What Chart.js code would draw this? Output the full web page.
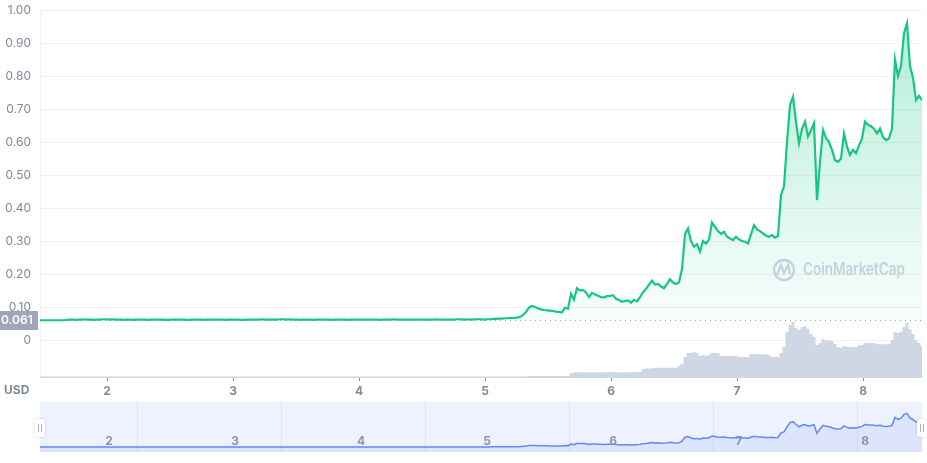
<!DOCTYPE html>
<html>
<head>
<meta charset="utf-8">
<script src="https://cdn.jsdelivr.net/npm/chart.js@4.4.0/dist/chart.umd.min.js"></script>
<style>
  body { margin: 0; background: #fff; }
  #wrap { position: relative; width: 927px; height: 463px; overflow: hidden; }
  #main { position: absolute; left: 0; top: 0; }
  #nav { position: absolute; left: 0; top: 395px; }
</style>
</head>
<body>
<div id="wrap">
  <canvas id="main" width="927" height="400"></canvas>
  <canvas id="nav" width="927" height="68"></canvas>
</div>
<script>
// one point every 1/42 day, starting in the middle of day 1
var startDay = 1.468;
var stepDay = 1 / 42;

var dayTicks = [2, 3, 4, 5, 6, 7, 8];
var priceTicks = [0, 0.1, 0.2, 0.3, 0.4, 0.5, 0.6, 0.7, 0.8, 0.9, 1.0];
var lastPrice = 0.061;

// price in USD
var prices = [
  0.060,0.060,0.060,0.060,0.060,0.060,0.060,0.060,0.060,0.061,
  0.062,0.062,0.061,0.062,0.062,0.063,0.062,0.062,0.061,0.062,
  0.062,0.063,0.063,0.062,0.063,0.062,0.062,0.062,0.061,0.062,
  0.062,0.061,0.062,0.062,0.062,0.062,0.061,0.062,0.062,0.062,
  0.062,0.062,0.061,0.061,0.062,0.062,0.062,0.062,0.062,0.061,
  0.061,0.062,0.062,0.062,0.062,0.061,0.062,0.062,0.062,0.062,
  0.062,0.062,0.061,0.062,0.062,0.062,0.062,0.061,0.061,0.062,
  0.062,0.062,0.062,0.062,0.063,0.062,0.062,0.062,0.062,0.062,
  0.063,0.063,0.062,0.063,0.062,0.062,0.062,0.061,0.062,0.062,
  0.062,0.061,0.062,0.062,0.062,0.062,0.062,0.061,0.062,0.062,
  0.062,0.062,0.062,0.061,0.062,0.062,0.062,0.062,0.062,0.062,
  0.062,0.062,0.062,0.061,0.062,0.062,0.062,0.062,0.063,0.062,
  0.062,0.062,0.062,0.062,0.062,0.062,0.062,0.062,0.062,0.062,
  0.062,0.062,0.063,0.062,0.062,0.062,0.062,0.062,0.062,0.063,
  0.063,0.062,0.062,0.063,0.062,0.063,0.063,0.063,0.062,0.063,
  0.063,
  0.064,0.064,0.065,0.065,0.066,0.066,0.067,0.067,0.068,0.070,
  0.076,0.085,0.098,0.103,0.100,0.096,0.093,0.091,0.090,0.089,
  0.088,0.086,0.085,0.084,0.098,0.095,0.140,0.122,0.157,0.150,
  0.152,0.144,0.130,0.143,0.138,0.134,0.130,0.129,0.133,0.134,
  0.136,0.125,0.121,0.116,0.118,0.120,0.113,0.122,0.117,0.130,
  0.145,0.155,0.168,0.180,0.168,0.170,0.162,0.157,0.170,0.184,
  0.174,0.170,0.175,0.215,0.320,0.338,0.300,0.283,0.290,0.268,
  0.300,0.292,0.305,0.356,0.343,0.330,0.322,0.328,0.313,0.308,
  0.303,0.313,0.305,0.300,0.298,0.293,0.320,0.348,0.335,0.330,
  0.323,0.316,0.313,0.318,0.310,0.315,0.440,0.465,0.600,0.712,
  0.737,0.660,0.596,0.640,0.662,0.616,0.636,0.657,0.424,0.540,
  0.636,0.612,0.600,0.576,0.545,0.540,0.550,0.626,0.586,0.561,
  0.576,0.566,0.590,0.610,0.662,0.652,0.648,0.640,0.626,0.641,
  0.615,0.606,0.611,0.640,0.850,0.800,0.830,0.930,0.960,0.830,
  0.795,0.727,0.740,0.727
];

// volume, million USD
var volumes = [
  0.5,0.5,0.5,0.5,0.5,0.5,0.5,0.5,0.5,0.5,
  0.5,0.5,0.5,0.5,0.5,0.5,0.5,0.5,0.5,0.5,
  0.5,0.5,0.5,0.5,0.5,0.5,0.5,0.5,0.5,0.5,
  0.5,0.5,0.5,0.5,0.5,0.5,0.5,0.5,0.5,0.5,
  0.5,0.5,0.5,0.5,0.5,0.5,0.5,0.5,0.5,0.5,
  0.5,0.5,0.5,0.5,0.5,0.5,0.5,0.5,0.5,0.5,
  0.5,0.5,0.5,0.5,0.5,0.5,0.5,0.5,0.5,0.5,
  0.5,0.5,0.5,0.5,0.5,0.5,0.5,0.5,0.5,0.5,
  0.5,0.5,0.5,0.5,0.5,0.5,0.5,0.5,0.5,0.5,
  0.5,0.5,0.5,0.5,0.5,0.5,0.5,0.5,0.5,0.5,
  0.5,0.5,0.5,0.5,0.5,0.5,0.5,0.5,0.5,0.5,
  0.5,0.5,0.5,0.5,0.5,0.5,0.5,0.5,0.5,0.5,
  0.5,0.5,0.5,0.5,0.5,0.5,0.5,0.5,0.5,0.5,
  0.5,0.5,0.5,0.5,0.5,0.5,0.5,0.5,0.5,0.5,
  0.5,0.5,0.5,0.5,0.5,0.5,0.5,0.5,0.5,0.5,
  0.6,0.6,0.6,0.6,0.6,0.6,0.6,0.6,0.6,0.6,0.6,0.6,0.6,
  1.0,1.0,1.0,1.0,1.0,1.0,1.0,1.0,1.0,1.0,1.0,1.0,1.0,1.0,
  3.5,
  4.5,4.7,4.7,4.8,4.7,4.7,4.6,4.7,4.8,4.7,4.7,4.7,
  4.8,4.9,4.7,4.7,4.6,4.7,4.7,4.8,4.7,4.9,5.0,
  7.7,
  8.5,8.5,8.5,
  9.3,9.3,9.3,9.3,9.3,9.3,9.3,9.3,
  11,13,20,
  24,24,25,24,21,22,21,22,24,24,
  24,21,21,21,21,21,21,20,20,20,
  20,23,23,23,22.7,22.7,22.7,22,20,20,
  20,24,30,45,52,55,49,47,50,51,
  48,43,40,32,34,38,36.7,36.7,36,33,
  30,29,31,30,30,30,30,31.7,31.7,34,
  34.3,34.3,34,33,32.7,32.7,32.7,33,36.7,45,
  44,45,50,54,47.7,43,37,34,31
];

var pricePts = prices.map(function (p, i) { return { x: startDay + i * stepDay, y: p }; });
var volPts = volumes.map(function (v, i) { return { x: startDay + i * stepDay, y: v }; });
var endDay = startDay + (prices.length - 1) * stepDay;

var fontFam = 'Inter, "Noto Sans", sans-serif';
var grey = '#808a9d';

function greenFill(context) {
  var chart = context.chart;
  var ca = chart.chartArea;
  if (!ca) return 'rgba(22,199,132,0.1)';
  var bottom = chart.scales.y.getPixelForValue(lastPrice);
  var g = chart.ctx.createLinearGradient(0, ca.top, 0, bottom);
  g.addColorStop(0, 'rgba(22,199,132,0.32)');
  g.addColorStop(1, 'rgba(22,199,132,0.03)');
  return g;
}

var cmcPlugin = {
  id: 'cmcExtras',
  beforeDatasetsDraw: function (chart) {
    var ctx = chart.ctx;
    var ca = chart.chartArea;
    var yl = Math.round(chart.scales.y.getPixelForValue(lastPrice)) + 0.5;
    ctx.save();
    // dotted line at the last price
    ctx.strokeStyle = '#9aa1b2';
    ctx.lineWidth = 1.2;
    ctx.setLineDash([1, 4]);
    ctx.beginPath();
    ctx.moveTo(ca.left, yl);
    ctx.lineTo(ca.right, yl);
    ctx.stroke();
    ctx.setLineDash([]);
    // watermark
    ctx.strokeStyle = '#cfd4e4';
    ctx.lineWidth = 2.3;
    ctx.beginPath();
    ctx.arc(784, 270, 10, 0, Math.PI * 2);
    ctx.stroke();
    ctx.beginPath();
    ctx.moveTo(777, 275);
    ctx.lineTo(781, 265);
    ctx.lineTo(784, 273);
    ctx.lineTo(788, 265);
    ctx.lineTo(790, 274);
    ctx.stroke();
    ctx.fillStyle = '#cfd4e4';
    ctx.font = '600 17px ' + fontFam;
    ctx.textBaseline = 'middle';
    var txt = 'CoinMarketCap';
    var w = ctx.measureText(txt).width;
    ctx.save();
    ctx.translate(803, 270);
    ctx.scale(102 / w, 1);
    ctx.fillText(txt, 0, 0);
    ctx.restore();
    ctx.restore();
  },
  afterDraw: function (chart) {
    var ctx = chart.ctx;
    var yl = chart.scales.y.getPixelForValue(lastPrice);
    ctx.save();
    ctx.fillStyle = '#a0a6b6';
    ctx.fillRect(0, Math.round(yl) - 9, 38, 19);
    ctx.fillStyle = '#fff';
    ctx.font = '600 12px ' + fontFam;
    ctx.textBaseline = 'middle';
    ctx.textAlign = 'left';
    ctx.fillText(lastPrice.toString(), 1, Math.round(yl) + 0.5);
    ctx.fillStyle = grey;
    ctx.font = 'bold 12px ' + fontFam;
    ctx.fillText('USD', 4, 390);
    ctx.restore();
  }
};

var mainChart = new Chart(document.getElementById('main'), {
  type: 'line',
  data: {
    datasets: [
      {
        label: 'Price',
        data: pricePts,
        yAxisID: 'y',
        borderColor: '#16c784',
        borderWidth: 2.2,
        pointRadius: 0,
        tension: 0,
        fill: { value: lastPrice },
        backgroundColor: greenFill,
        order: 1
      },
      {
        label: 'Volume',
        data: volPts,
        yAxisID: 'yv',
        stepped: 'middle',
        borderWidth: 0,
        borderColor: 'rgba(0,0,0,0)',
        backgroundColor: '#cfd6e4',
        fill: 'origin',
        pointRadius: 0,
        order: 2
      }
    ]
  },
  options: {
    responsive: false,
    animation: false,
    layout: { padding: { top: 10, right: 5, left: 0, bottom: 0 } },
    plugins: { legend: { display: false }, tooltip: { enabled: false } },
    scales: {
      x: {
        type: 'linear',
        min: startDay,
        max: endDay,
        afterBuildTicks: function (s) { s.ticks = dayTicks.map(function (v) { return { value: v }; }); },
        ticks: {
          color: grey,
          font: { family: fontFam, size: 12, weight: 'bold' },
          padding: 3,
          maxRotation: 0,
          autoSkip: false
        },
        grid: { drawOnChartArea: false, tickLength: 4, tickColor: grey },
        border: { color: '#cfd6e4' },
        afterFit: function (s) { s.height = 23; }
      },
      y: {
        min: -0.112,
        max: 1.0,
        afterBuildTicks: function (s) { s.ticks = priceTicks.map(function (v) { return { value: v }; }); },
        ticks: {
          color: grey,
          font: { family: fontFam, size: 12 },
          padding: 0,
          callback: function (v) { return v === 0 ? '0' : v.toFixed(2); }
        },
        // invisible tick marks keep the labels off the plot without extra top padding
        grid: { color: '#eff2f5', drawTicks: true, tickLength: 9, tickColor: 'rgba(0,0,0,0)' },
        border: { display: true, color: '#eff2f5' },
        afterFit: function (s) { s.width = 40; }
      },
      yv: { display: false, min: 0, max: 367 }
    }
  },
  plugins: [cmcPlugin]
});

var navPlugin = {
  id: 'navExtras',
  beforeDraw: function (chart) {
    var ca = chart.chartArea;
    var ctx = chart.ctx;
    ctx.save();
    ctx.fillStyle = '#eef2fe';
    ctx.fillRect(ca.left, ca.top, ca.right - ca.left, ca.bottom - ca.top);
    ctx.restore();
  },
  afterDraw: function (chart) {
    var ctx = chart.ctx;
    var ca = chart.chartArea;
    var sx = chart.scales.x;
    ctx.save();
    ctx.fillStyle = '#8a94ad';
    ctx.font = 'bold 12px ' + fontFam;
    ctx.textAlign = 'center';
    ctx.textBaseline = 'middle';
    dayTicks.forEach(function (d) {
      ctx.fillText(String(d), sx.getPixelForValue(d) + 2, 46);
    });
    // range handles
    [ca.left, ca.right].forEach(function (hx) {
      ctx.save();
      ctx.shadowColor = 'rgba(0,0,0,0.18)';
      ctx.shadowBlur = 3;
      ctx.fillStyle = '#fff';
      ctx.beginPath();
      ctx.roundRect(hx - 5, 24, 10, 18, 3);
      ctx.fill();
      ctx.restore();
      ctx.strokeStyle = '#a9b0c0';
      ctx.lineWidth = 1;
      ctx.beginPath();
      ctx.moveTo(hx - 1.5, 29); ctx.lineTo(hx - 1.5, 37);
      ctx.moveTo(hx + 1.5, 29); ctx.lineTo(hx + 1.5, 37);
      ctx.stroke();
    });
    ctx.restore();
  }
};

var navChart = new Chart(document.getElementById('nav'), {
  type: 'line',
  data: {
    datasets: [{
      data: pricePts,
      borderColor: '#6188f6',
      borderWidth: 1.5,
      pointRadius: 0,
      tension: 0,
      fill: 'start',
      backgroundColor: 'rgba(97,136,255,0.13)'
    }]
  },
  options: {
    responsive: false,
    animation: false,
    layout: { padding: { top: 7, bottom: 11, left: 40, right: 5 } },
    plugins: { legend: { display: false }, tooltip: { enabled: false } },
    scales: {
      x: { type: 'linear', display: false, min: startDay, max: endDay },
      g: {
        type: 'linear',
        axis: 'x',
        position: 'top',
        min: -0.674,
        max: 5.451,
        afterBuildTicks: function (s) { s.ticks = [0, 1, 2, 3, 4, 5].map(function (v) { return { value: v }; }); },
        ticks: { display: false },
        grid: { color: '#dde3f4', drawTicks: false },
        border: { display: false },
        afterFit: function (s) { s.height = 0; }
      },
      y: { display: false, min: -0.074, max: 1.263 }
    }
  },
  plugins: [navPlugin]
});
</script>
</body>
</html>
